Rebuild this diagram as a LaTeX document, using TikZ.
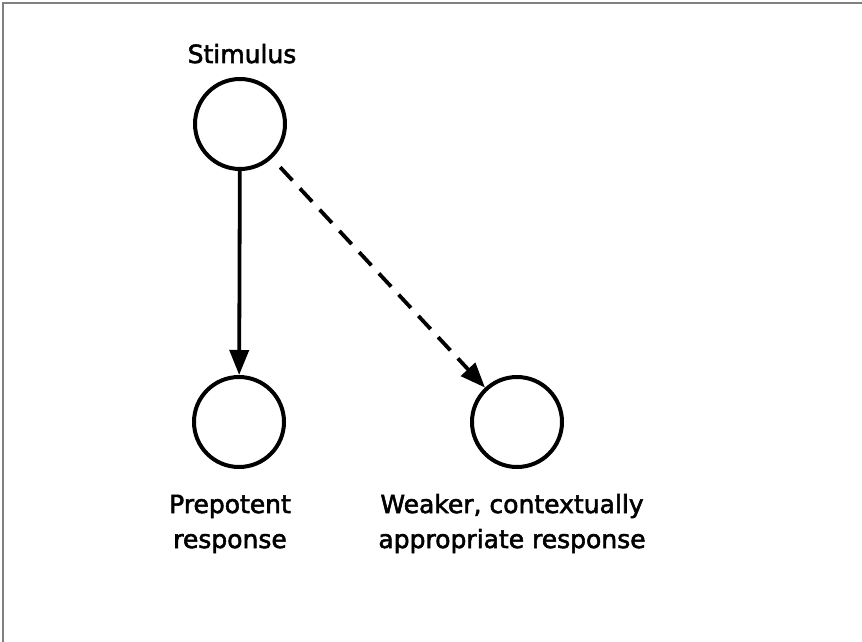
\documentclass[tikz,border=0pt]{standalone}
\usepackage{fontspec}
\setmainfont[FakeBold=2.2]{DejaVu Sans}
\usetikzlibrary{arrows.meta}
\begin{document}
\begin{tikzpicture}[x=1pt,y=-1pt,
  state/.style={circle,draw=black,line width=4pt,minimum size=90pt,inner sep=0pt},
  lbl/.style={font=\fontsize{25}{35}\selectfont,align=center,inner sep=0pt},
  conn/.style={line width=3.8pt,-{Triangle[length=25pt,width=19pt]}},
  frame/.style={draw=black!50,line width=2pt}]
\useasboundingbox (0,0) rectangle (862,642);
\draw[frame] (3,642) -- (3,3) -- (862,3);
\node[state] (s) at (240,124) {};
\node[state] (p) at (239,422) {};
\node[state] (w) at (517,422) {};
\node[lbl,anchor=base] (ls) at (242,63) {Stimulus};
\node[lbl,anchor=base] (lp) at (230,548) {Prepotent\\response};
\node[lbl,anchor=base] (lw) at (512,548) {Weaker, contextually\\appropriate response};
\draw[conn] (s) -- (p);
\draw[conn,dash pattern=on 18pt off 11pt,shorten <=12pt] (s) -- (w);
\end{tikzpicture}
\end{document}
